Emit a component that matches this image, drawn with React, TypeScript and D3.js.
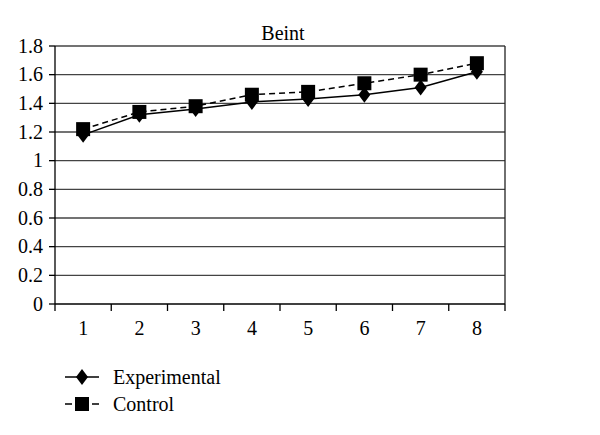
import { useEffect, useRef } from "react";
import { select, scaleBand, scaleLinear, line, range } from "d3";

const categories = ["1", "2", "3", "4", "5", "6", "7", "8"];
const experimental = [1.18, 1.32, 1.36, 1.41, 1.43, 1.46, 1.51, 1.62];
const control = [1.22, 1.34, 1.38, 1.46, 1.48, 1.54, 1.6, 1.68];
const yTicks = [0, 0.2, 0.4, 0.6, 0.8, 1, 1.2, 1.4, 1.6, 1.8];
const yTickLabels = ["0", "0.2", "0.4", "0.6", "0.8", "1", "1.2", "1.4", "1.6", "1.8"];
const title = "Beint";
const seriesNames = ["Experimental", "Control"];

const FONT = "'Liberation Serif', 'Times New Roman', serif";
const FS = "20px";

export default function App() {
    const ref = useRef<SVGSVGElement>(null);

    useEffect(() => {
        const svg = select(ref.current);
        svg.selectAll("*").remove();

        const left = 55;
        const right = 505;
        const top = 46;
        const bottom = 304;

        const x = scaleBand<string>().domain(categories).range([left, right]);
        const y = scaleLinear().domain([0, 1.8]).range([bottom, top]);

        svg.append("rect").attr("width", 600).attr("height", 435).attr("fill", "white");

        // gridlines
        svg.append("g")
            .selectAll("line")
            .data(yTicks.slice(1))
            .join("line")
            .attr("x1", left)
            .attr("x2", right)
            .attr("y1", (d) => y(d))
            .attr("y2", (d) => y(d))
            .attr("stroke", "#444")
            .attr("stroke-width", 1.3);

        // right border
        svg.append("line")
            .attr("x1", right).attr("x2", right)
            .attr("y1", top).attr("y2", bottom)
            .attr("stroke", "#222").attr("stroke-width", 1.3);

        // y axis
        svg.append("line")
            .attr("x1", left).attr("x2", left)
            .attr("y1", top).attr("y2", bottom)
            .attr("stroke", "black").attr("stroke-width", 1.3);
        const yAxis = svg.append("g");
        yAxis.selectAll("line")
            .data(yTicks)
            .join("line")
            .attr("x1", left - 6).attr("x2", left)
            .attr("y1", (d) => y(d)).attr("y2", (d) => y(d))
            .attr("stroke", "black").attr("stroke-width", 1.3);
        yAxis.selectAll("text")
            .data(yTicks)
            .join("text")
            .attr("x", left - 12)
            .attr("y", (d) => y(d))
            .attr("dy", "0.33em")
            .attr("text-anchor", "end")
            .style("font-family", FONT)
            .style("font-size", FS)
            .text((_, i) => yTickLabels[i]);

        // x axis
        svg.append("line")
            .attr("x1", left).attr("x2", right)
            .attr("y1", bottom).attr("y2", bottom)
            .attr("stroke", "black").attr("stroke-width", 1.3);
        const bounds = range(categories.length + 1).map((i) => left + i * x.step());
        svg.append("g")
            .selectAll("line")
            .data(bounds)
            .join("line")
            .attr("x1", (d) => d).attr("x2", (d) => d)
            .attr("y1", bottom).attr("y2", bottom + 7)
            .attr("stroke", "black").attr("stroke-width", 1.3);
        svg.append("g")
            .selectAll("text")
            .data(categories)
            .join("text")
            .attr("x", (d) => (x(d) as number) + x.bandwidth() / 2)
            .attr("y", bottom + 31)
            .attr("text-anchor", "middle")
            .style("font-family", FONT)
            .style("font-size", FS)
            .text((d) => d);

        // title
        svg.append("text")
            .attr("x", 283)
            .attr("y", 40)
            .attr("text-anchor", "middle")
            .style("font-family", FONT)
            .style("font-size", FS)
            .text(title);

        const cx = (i: number) => (x(categories[i]) as number) + x.bandwidth() / 2;
        const lineGen = line<number>().x((_, i) => cx(i)).y((d) => y(d));

        // control (dashed, squares)
        svg.append("path")
            .datum(control)
            .attr("d", lineGen)
            .attr("fill", "none")
            .attr("stroke", "black")
            .attr("stroke-width", 1.5)
            .attr("stroke-dasharray", "6,4");
        // experimental (solid, diamonds)
        svg.append("path")
            .datum(experimental)
            .attr("d", lineGen)
            .attr("fill", "none")
            .attr("stroke", "black")
            .attr("stroke-width", 1.5);

        const diamond = (px: number, py: number) =>
            `M${px},${py - 8}L${px + 6},${py}L${px},${py + 8}L${px - 6},${py}Z`;

        svg.append("g")
            .selectAll("path")
            .data(experimental)
            .join("path")
            .attr("d", (d, i) => diamond(cx(i), y(d)))
            .attr("fill", "black");
        svg.append("g")
            .selectAll("rect")
            .data(control)
            .join("rect")
            .attr("x", (_, i) => cx(i) - 7)
            .attr("y", (d) => y(d) - 7)
            .attr("width", 14)
            .attr("height", 14)
            .attr("fill", "black");

        // legend
        const legend = svg.append("g");
        const ly = [377, 404];
        legend.append("line")
            .attr("x1", 65).attr("x2", 99)
            .attr("y1", ly[0]).attr("y2", ly[0])
            .attr("stroke", "black").attr("stroke-width", 1.5);
        legend.append("path").attr("d", diamond(82, ly[0])).attr("fill", "black");
        legend.append("line")
            .attr("x1", 65).attr("x2", 99)
            .attr("y1", ly[1]).attr("y2", ly[1])
            .attr("stroke", "black").attr("stroke-width", 1.5)
            .attr("stroke-dasharray", "7,20");
        legend.append("rect")
            .attr("x", 75).attr("y", ly[1] - 7)
            .attr("width", 14).attr("height", 14)
            .attr("fill", "black");
        legend.selectAll("text")
            .data(seriesNames)
            .join("text")
            .attr("x", 113)
            .attr("y", (_, i) => ly[i])
            .attr("dy", "0.33em")
            .style("font-family", FONT)
            .style("font-size", FS)
            .text((d) => d);
    }, []);

    return (
        <svg
            ref={ref}
            width={600}
            height={435}
            style={{ position: "absolute", left: 0, top: 0 }}
        />
    );
}
